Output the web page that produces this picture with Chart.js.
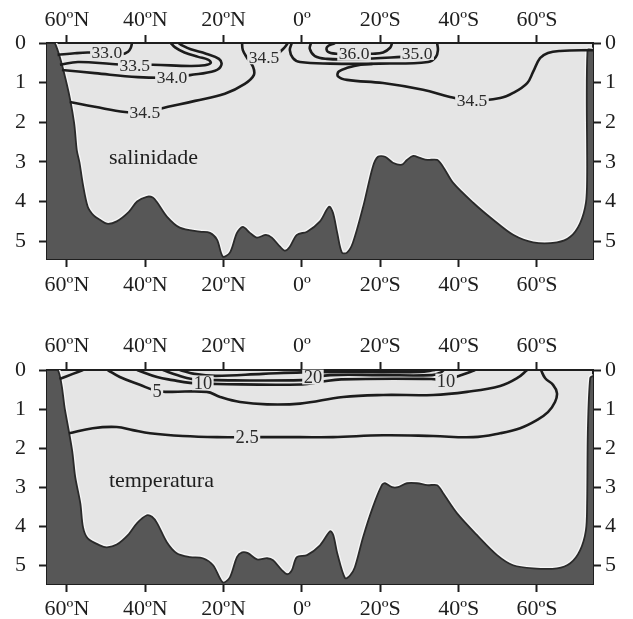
<!DOCTYPE html>
<html><head><meta charset="utf-8">
<script src="https://cdn.jsdelivr.net/npm/chart.js@4.4.1/dist/chart.umd.min.js"></script>
<style>
html,body{margin:0;padding:0;background:#fff;}
#wrap{position:relative;width:633px;height:619px;overflow:hidden;}
.p{position:absolute;left:0;width:633px;}
</style></head><body>
<div id="wrap">
<div class="p" style="top:0;height:310px"><canvas id="c1" width="633" height="310"></canvas></div>
<div class="p" style="top:310px;height:309px"><canvas id="c2" width="633" height="309"></canvas></div>
</div>
<script>
// ---------- axes ----------
const latTicks = [-60, -40, -20, 0, 20, 40, 60];
const latTickLabels = ['60ºN', '40ºN', '20ºN', '0º', '20ºS', '40ºS', '60ºS'];
const depthTicks = [0, 1, 2, 3, 4, 5];
const latRange = [-65.1, 74.3];
const salDepthMax = 5.45;
const tmpDepthMax = 5.48;

// ---------- salinity panel: sea floor [lat (S positive), depth km] ----------
const salBottom = [[-65.1,0],[-63.1,0],[-60.0,1.06],[-58.2,2.0],[-57.5,2.7],[-56.8,3.02],[-56.0,3.53],[-54.7,4.13],[-53.2,4.35],[-51.6,4.46],[-49.8,4.56],[-47.3,4.5],[-44.2,4.26],[-42.1,4.0],[-39.6,3.88],[-38.1,3.9],[-37.0,4.02],[-34.5,4.38],[-31.2,4.66],[-26.1,4.76],[-23.5,4.79],[-21.7,4.96],[-20.2,5.39],[-18.4,5.29],[-16.6,4.79],[-15.1,4.64],[-13.3,4.79],[-11.5,4.91],[-9.2,4.84],[-7.7,4.91],[-5.6,5.14],[-4.3,5.24],[-3.1,5.14],[-1.3,4.84],[1.3,4.76],[4.6,4.5],[6.9,4.13],[7.9,4.28],[9.0,4.79],[10.2,5.29],[11.5,5.29],[13.0,5.04],[15.6,4.14],[18.1,3.12],[19.4,2.87],[21.2,2.87],[23.2,3.02],[25.5,3.07],[26.8,2.95],[28.4,2.85],[30.1,2.9],[32.0,2.95],[34.5,2.95],[36.0,3.12],[38.6,3.53],[43.7,4.03],[48.8,4.46],[53.9,4.84],[59.0,5.03],[65.1,5.03],[68.5,4.89],[71.0,4.55],[72.5,4.03],[72.8,3.37],[72.9,0.18],[74.4,0.18]];

// salinity isolines
const sal330 = [[-62.4,0.30],[-58,0.26],[-54.7,0.24],[-50,0.24],[-46,0.28],[-44.4,0.22],[-43.7,0.12],[-43.4,0]];
const sal335 = [[-61.8,0.55],[-57.2,0.48],[-48.5,0.53],[-42.7,0.56],[-38.1,0.55],[-28.6,0.58],[-24.8,0.56],[-23.3,0.5],[-24.0,0.42],[-26.5,0.35],[-30.0,0.24],[-32.4,0.11],[-33.5,0]];
const sal340 = [[-61.3,0.68],[-52.9,0.76],[-41.9,0.86],[-33.2,0.87],[-28.6,0.81],[-22.2,0.7],[-20.6,0.56],[-21.2,0.4],[-24.5,0.27],[-28.4,0.16],[-30.6,0.06],[-31.5,0]];
const sal345a = [[-59.3,1.49],[-52.9,1.61],[-45.2,1.74],[-40.1,1.74],[-34.2,1.61],[-27.3,1.46],[-19.7,1.28],[-14.6,1.03],[-12.3,0.81],[-12.5,0.6],[-14.0,0.38],[-15.1,0.18],[-15.3,0]];
const sal345b = [[-3.6,0],[-4.6,0.13],[-5.9,0.25]];
const sal350 = [[-2.6,0],[-3.1,0.18],[-2.3,0.38],[-0.5,0.48],[7.2,0.52],[19.9,0.52],[32.2,0.48],[34.2,0.35],[34.7,0.18],[34.5,0]];
const sal355 = [[2.3,0],[2.0,0.15],[3.3,0.33],[6.4,0.4],[12,0.41],[18,0.39],[25.5,0.35]];
const sal360 = [[8.4,0],[6.4,0.1],[6.6,0.22],[8.7,0.27],[13.3,0.27],[18.1,0.27],[20.7,0.24],[22.5,0.12],[23.0,0]];
const sal345c = [[74.4,0.18],[65.9,0.2],[62.8,0.25],[60.8,0.38],[59.0,0.73],[57.5,1.01],[53.9,1.26],[50.6,1.39],[43.4,1.46],[37.8,1.36],[30.9,1.18],[20.7,1.01],[11.5,0.93],[9.2,0.84],[9.4,0.72],[11.8,0.62],[15,0.55],[18,0.53]];

const salLabelText  = ['33.0', '33.5', '34.0', '34.5', '34.5', '36.0', '35.0', '34.5'];
const salLabelLat   = [-49.8, -42.7, -33.2, -40.1, -9.7, 13.3, 29.4, 43.4];
const salLabelDepth = [0.24, 0.57, 0.87, 1.74, 0.36, 0.27, 0.25, 1.46];

// ---------- temperature panel ----------
const tmpBottom = [[-65.1,0],[-62.3,0],[-60.5,1.03],[-58.7,2.05],[-57.9,2.74],[-56.6,3.41],[-55.9,4.03],[-54.7,4.31],[-51.6,4.49],[-49.8,4.54],[-47.3,4.47],[-44.2,4.2],[-42.1,3.92],[-39.6,3.72],[-38.3,3.76],[-37.0,3.92],[-34.5,4.41],[-32.0,4.69],[-28.6,4.79],[-25.3,4.82],[-22.7,5.0],[-20.2,5.44],[-18.4,5.31],[-16.6,4.79],[-15.3,4.67],[-13.8,4.69],[-11.5,4.85],[-8.9,4.82],[-7.4,4.87],[-5.1,5.13],[-3.8,5.23],[-2.6,5.13],[-1.3,4.79],[1.3,4.74],[4.6,4.49],[7.2,4.13],[8.0,4.23],[9.0,4.69],[11.0,5.33],[12.3,5.26],[13.5,5.05],[15.6,4.28],[18.1,3.51],[20.4,2.95],[21.2,2.9],[23.0,3.0],[24.5,3.0],[26.8,2.9],[29.4,2.9],[32.0,2.95],[34.5,2.95],[36.0,3.15],[39.6,3.67],[44.7,4.23],[49.8,4.74],[53.9,5.0],[59.0,5.08],[65.1,5.08],[68.5,4.95],[71.0,4.62],[72.5,4.1],[72.8,3.41],[73.0,1.5],[73.6,0.2],[74.4,0.15]];

const tmpWall = [[-61.9,0.23],[-58.5,0.1],[-55.9,0]];
const tmp5 = [[-49.6,0],[-46.5,0.18],[-41.4,0.38],[-37.0,0.54],[-33.7,0.56],[-24.3,0.56],[-20.9,0.69],[-15.8,0.82],[-8.9,0.88],[-0.5,0.86],[10.5,0.69],[20.7,0.64],[33.5,0.64],[42.1,0.56],[50.6,0.41],[54.9,0.21],[57.5,0]];
const tmp10 = [[-42.1,0],[-37.0,0.18],[-33.0,0.26],[-28.6,0.33],[-25.3,0.34],[-21.7,0.36],[0,0.37],[5,0.3],[10,0.24],[33,0.23],[36.8,0.26],[39.8,0.16],[42.4,0.07],[44.2,0]];
const tmp20 = [[-35.5,0],[-31.9,0.13],[-28.1,0.23],[-21.7,0.26],[0,0.26],[2.8,0.2],[7.2,0.13],[20,0.13],[33.2,0.13],[35.5,0.06],[36.2,0]];
const tmp25 = [[-31.2,0],[-27.5,0.1],[-22,0.15],[-10,0.1],[0,0.06],[15,0.05],[30,0.05],[34,0]];
const tmp2_5 = [[-59.5,1.62],[-53.4,1.49],[-47.3,1.46],[-43.2,1.54],[-38.8,1.62],[-30.4,1.69],[-21.7,1.72],[-14.0,1.72],[-8.2,1.72],[-0.5,1.72],[7.9,1.72],[20.7,1.67],[33.5,1.69],[43.7,1.72],[50.6,1.62],[55.7,1.49],[60.0,1.28],[62.8,1.08],[64.6,0.82],[65.1,0.59],[64.1,0.38],[62.1,0.21],[61.0,0]];

const tmpLabelText  = ['5', '10', '20', '10', '2.5'];
const tmpLabelLat   = [-37.0, -25.3, 2.8, 36.8, -14.0];
const tmpLabelDepth = [0.54, 0.33, 0.18, 0.28, 1.72];

// ---------- rendering ----------
const INK = '#1e1e1e';
const PLOT_BG = '#e5e5e5';
const FLOOR = '#575757';
const SERIF = "'Liberation Serif', 'DejaVu Serif', serif";

const toXY = arr => arr.map(p => ({x: p[0], y: p[1]}));

function axisCommon(extra) {
  return Object.assign({
    type: 'linear',
    grid: {display: true, drawOnChartArea: false, drawTicks: true, tickLength: 8, tickWidth: 2, tickColor: INK},
    border: {display: true, color: INK, width: 2},
  }, extra);
}

function makePanel(id, p) {
  const datasets = [];
  datasets.push({data: toXY(p.bottom), showLine: true, borderColor: '#f6f6f6', borderWidth: 4.5,
    pointRadius: 0, tension: 0.3, fill: false, order: 6});
  datasets.push({data: toXY(p.bottom), showLine: true, borderColor: '#2a2a2a', borderWidth: 1.8,
    backgroundColor: FLOOR, pointRadius: 0, tension: 0.3, fill: {value: p.depthMax}, order: 5});
  p.lines.forEach(l => datasets.push({data: toXY(l), showLine: true, borderColor: '#1c1c1c',
    borderWidth: 2.6, pointRadius: 0, tension: 0.4, fill: false, order: 1}));

  const latTickFn = s => { s.ticks = latTicks.map(v => ({value: v})); };
  const depTickFn = s => { s.ticks = depthTicks.map(v => ({value: v})); };
  const tickFont = {family: SERIF, size: 22};

  const panelPlugin = {
    id: 'panel' + id,
    beforeDraw(chart) {
      const a = chart.chartArea, ctx = chart.ctx;
      ctx.save(); ctx.fillStyle = PLOT_BG;
      ctx.fillRect(a.left, a.top, a.right - a.left, a.bottom - a.top);
      ctx.restore();
    },
    afterDatasetsDraw(chart) {
      const ctx = chart.ctx, xs = chart.scales.x, ys = chart.scales.y;
      ctx.save();
      ctx.font = p.labelSize + 'px ' + SERIF;
      ctx.textAlign = 'center'; ctx.textBaseline = 'middle';
      p.labelText.forEach((t, i) => {
        const x = xs.getPixelForValue(p.labelLat[i]);
        const y = ys.getPixelForValue(p.labelDepth[i]);
        const w = ctx.measureText(t).width + 3;
        const h = p.labelSize * 0.8;
        ctx.fillStyle = PLOT_BG;
        ctx.fillRect(x - w / 2, y - h / 2, w, h);
        ctx.fillStyle = '#2a2a2a';
        ctx.fillText(t, x, y + 1);
      });
      ctx.font = '22px ' + SERIF;
      ctx.textAlign = 'left';
      ctx.fillStyle = INK;
      ctx.fillText(p.title, xs.getPixelForValue(p.titleLat), ys.getPixelForValue(p.titleDepth));
      ctx.restore();
    }
  };

  return new Chart(document.getElementById(id), {
    type: 'scatter',
    data: {datasets},
    plugins: [panelPlugin],
    options: {
      responsive: false, animation: false, devicePixelRatio: 1,
      layout: {padding: 0},
      plugins: {legend: {display: false}, tooltip: {enabled: false}},
      scales: {
        x: axisCommon({position: 'bottom', min: latRange[0], max: latRange[1], afterBuildTicks: latTickFn,
          ticks: {callback: (v, i) => latTickLabels[i], font: tickFont, color: INK, padding: p.padBottom, maxRotation: 0, autoSkip: false},
          afterFit: s => { s.height = p.bottomH; }}),
        xTop: axisCommon({position: 'top', min: latRange[0], max: latRange[1], afterBuildTicks: latTickFn,
          ticks: {callback: (v, i) => latTickLabels[i], font: tickFont, color: INK, padding: p.padTop, maxRotation: 0, autoSkip: false},
          afterFit: s => { s.height = p.topH; }}),
        y: axisCommon({position: 'left', reverse: true, min: 0, max: p.depthMax, afterBuildTicks: depTickFn,
          ticks: {callback: v => String(v), font: tickFont, color: INK, padding: 13},
          afterFit: s => { s.width = 47; }}),
        yRight: axisCommon({position: 'right', reverse: true, min: 0, max: p.depthMax, afterBuildTicks: depTickFn,
          ticks: {callback: v => String(v), font: tickFont, color: INK, padding: 4},
          afterFit: s => { s.width = 40; }})
      }
    }
  });
}

makePanel('c1', {
  bottom: salBottom, depthMax: salDepthMax,
  lines: [sal330, sal335, sal340, sal345a, sal345b, sal350, sal355, sal360, sal345c],
  labelText: salLabelText, labelLat: salLabelLat, labelDepth: salLabelDepth, labelSize: 17.5,
  title: 'salinidade', titleLat: -49.3, titleDepth: 2.9,
  topH: 43, bottomH: 51, padTop: 2, padBottom: 5
});
makePanel('c2', {
  bottom: tmpBottom, depthMax: tmpDepthMax,
  lines: [tmpWall, tmp5, tmp10, tmp20, tmp25, tmp2_5],
  labelText: tmpLabelText, labelLat: tmpLabelLat, labelDepth: tmpLabelDepth, labelSize: 18.5,
  title: 'temperatura', titleLat: -49.3, titleDepth: 2.85,
  topH: 60, bottomH: 35, padTop: 3, padBottom: 4
});
</script>
</body></html>
